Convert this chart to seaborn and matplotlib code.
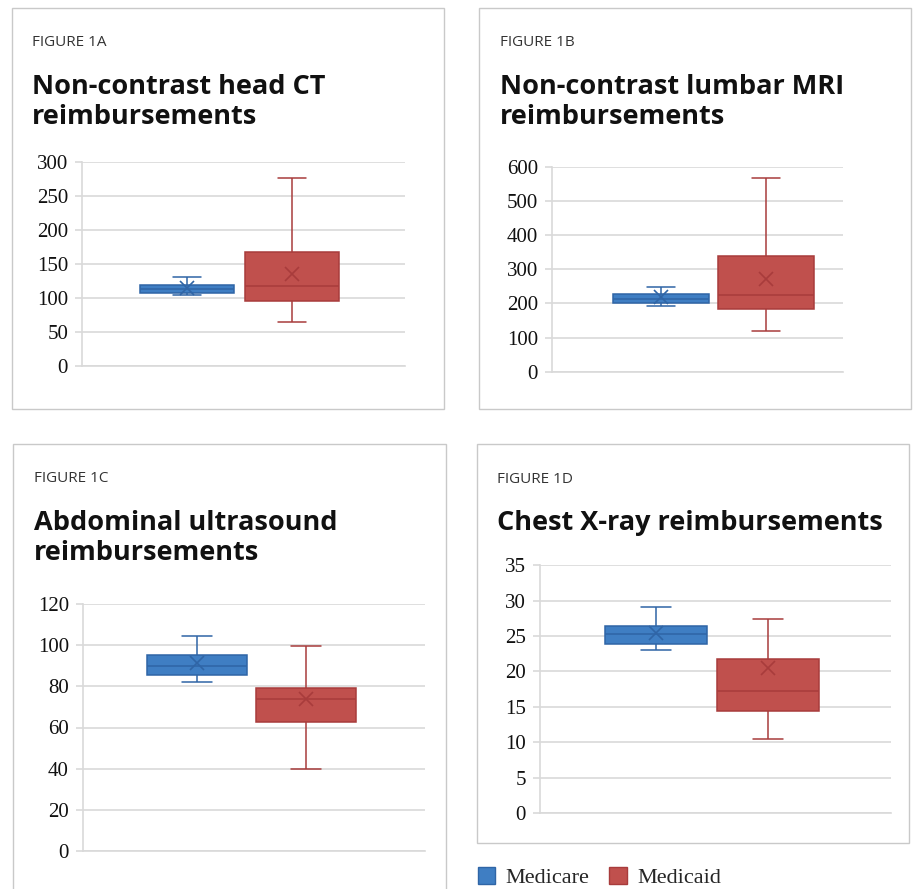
import numpy as np
import pandas as pd
import matplotlib
matplotlib.use("Agg")
import matplotlib.pyplot as plt
from matplotlib.patches import Patch, Rectangle
import seaborn as sns

payers = ["Medicare", "Medicaid"]

# Five-number summaries per payer: minimum, Q1, median, Q3, maximum
ct_medicare = [104, 108, 113, 119, 131]
ct_medicaid = [64, 96, 117, 168, 276]
ct_means = [115, 136]

mri_medicare = [193, 202, 212, 226, 248]
mri_medicaid = [119, 183, 224, 339, 568]
mri_means = [219, 271]

us_medicare = [82, 85.5, 90, 95, 104.5]
us_medicaid = [40, 62.5, 74, 79.4, 99.6]
us_means = [91.2, 73.7]

xray_medicare = [23.0, 23.9, 25.25, 26.4, 29.1]
xray_medicaid = [10.4, 14.4, 17.3, 21.7, 27.4]
xray_means = [25.5, 20.5]

fig_labels = ["FIGURE 1A", "FIGURE 1B", "FIGURE 1C", "FIGURE 1D"]
titles = [
    "Non-contrast head CT\nreimbursements",
    "Non-contrast lumbar MRI\nreimbursements",
    "Abdominal ultrasound\nreimbursements",
    "Chest X-ray reimbursements",
]

fills = ["#3f7ec3", "#c0504d"]
edges = ["#2f65a6", "#a83c3c"]
GRID = "#d9d9d9"
W, H = 913, 889

sns.set_style("white")
plt.rcParams["font.family"] = ["DejaVu Sans"]

fig = plt.figure(figsize=(W / 100, H / 100), dpi=100)


def fx(px):
    return px / W


def fy(py):
    return 1 - py / H


def axes_at(x0, y0, x1, y1):
    return fig.add_axes([fx(x0), fy(y1), (x1 - x0) / W, (y1 - y0) / H])


def draw_panel(ax, summaries, means, top, step, xlim, width):
    df = pd.DataFrame({
        "payer": np.repeat(payers, 5),
        "value": np.concatenate([np.asarray(s, float) for s in summaries]),
    })
    for payer, fill, edge, mean in zip(payers, fills, edges, means):
        sub = df[df["payer"] == payer]
        sns.boxplot(data=sub, x="payer", y="value", order=payers,
                    color=fill, linecolor=edge, linewidth=1.1, width=width,
                    whis=(0, 100), saturation=1, showfliers=False,
                    capwidths=0.27, ax=ax)
        sns.pointplot(x=[payer], y=[mean], order=payers, color=edge,
                      markers="x", linestyles="none", markersize=10,
                      markeredgewidth=1.2, errorbar=None, ax=ax)
    ax.set_xlim(*xlim)
    ax.set_ylim(0, top)
    ax.set_yticks(np.arange(0, top + step / 2, step))
    ax.set_xticks([])
    ax.set_xlabel("")
    ax.set_ylabel("")
    ax.yaxis.grid(True, color=GRID, lw=1.2)
    ax.set_axisbelow(True)
    for side in ["top", "right"]:
        ax.spines[side].set_visible(False)
    ax.spines["left"].set_color(GRID)
    ax.spines["left"].set_linewidth(1.2)
    ax.spines["bottom"].set_color(GRID)
    ax.spines["bottom"].set_linewidth(1.2)
    ax.tick_params(axis="y", length=5, width=1.2, color=GRID, pad=5,
                   labelsize=15, left=True)
    for t in ax.get_yticklabels():
        t.set_fontfamily("Liberation Serif")
        t.set_color("#111111")


# Panel frames (pixel boxes)
frames = [(11.5, 7.5, 443.5, 409), (479, 8, 911, 409),
          (13, 444, 446, 895), (476.5, 444, 908.5, 843)]
for x0, y0, x1, y1 in frames:
    fig.add_artist(Rectangle((fx(x0), fy(y1)), (x1 - x0) / W, (y1 - y0) / H,
                             transform=fig.transFigure, fill=False,
                             ec="#c9c9c9", lw=1.0))

# Headings
heads = [(32, 46.5, 94), (500, 46.5, 94), (34, 482, 530), (497, 483, 530)]
for (x, ylab, ytitle), lab, title in zip(heads, fig_labels, titles):
    fig.text(fx(x), fy(ylab), lab, fontsize=11, color="#333333",
             family=["Open Sans", "DejaVu Sans"], va="baseline")
    lines = title.split("\n")
    for i, line in enumerate(lines):
        fig.text(fx(x), fy(ytitle + 30 * i), line, fontsize=19.5,
                 fontweight="bold", family=["Open Sans", "DejaVu Sans"],
                 color="#111111", va="baseline")

axA = axes_at(82, 162, 405, 366)
draw_panel(axA, [ct_medicare, ct_medicaid], ct_means, 300, 50,
           (-1.0, 2.076), 0.89)

axB = axes_at(552, 166.7, 843, 371.7)
draw_panel(axB, [mri_medicare, mri_medicaid], mri_means, 600, 100,
           (-1.038, 1.733), 0.91)

axC = axes_at(82.7, 604, 425, 851)
draw_panel(axC, [us_medicare, us_medicaid], us_means, 120, 20,
           (-1.049, 2.094), 0.915)

axD = axes_at(539.7, 565.3, 890.7, 813)
draw_panel(axD, [xray_medicare, xray_medicaid], xray_means, 35, 5,
           (-1.038, 2.096), 0.915)

handles = [Patch(facecolor=f, edgecolor=e, lw=1.0) for f, e in zip(fills, edges)]
fig.legend(handles, payers, loc="lower left",
           bbox_to_anchor=(fx(471), fy(895)), ncol=2, frameon=False,
           prop={"family": "Liberation Serif", "size": 16},
           handlelength=0.8, handleheight=0.8, handletextpad=0.45,
           columnspacing=0.9, borderaxespad=0, borderpad=0.3)

fig.savefig("out.png", dpi=100, facecolor="white")
